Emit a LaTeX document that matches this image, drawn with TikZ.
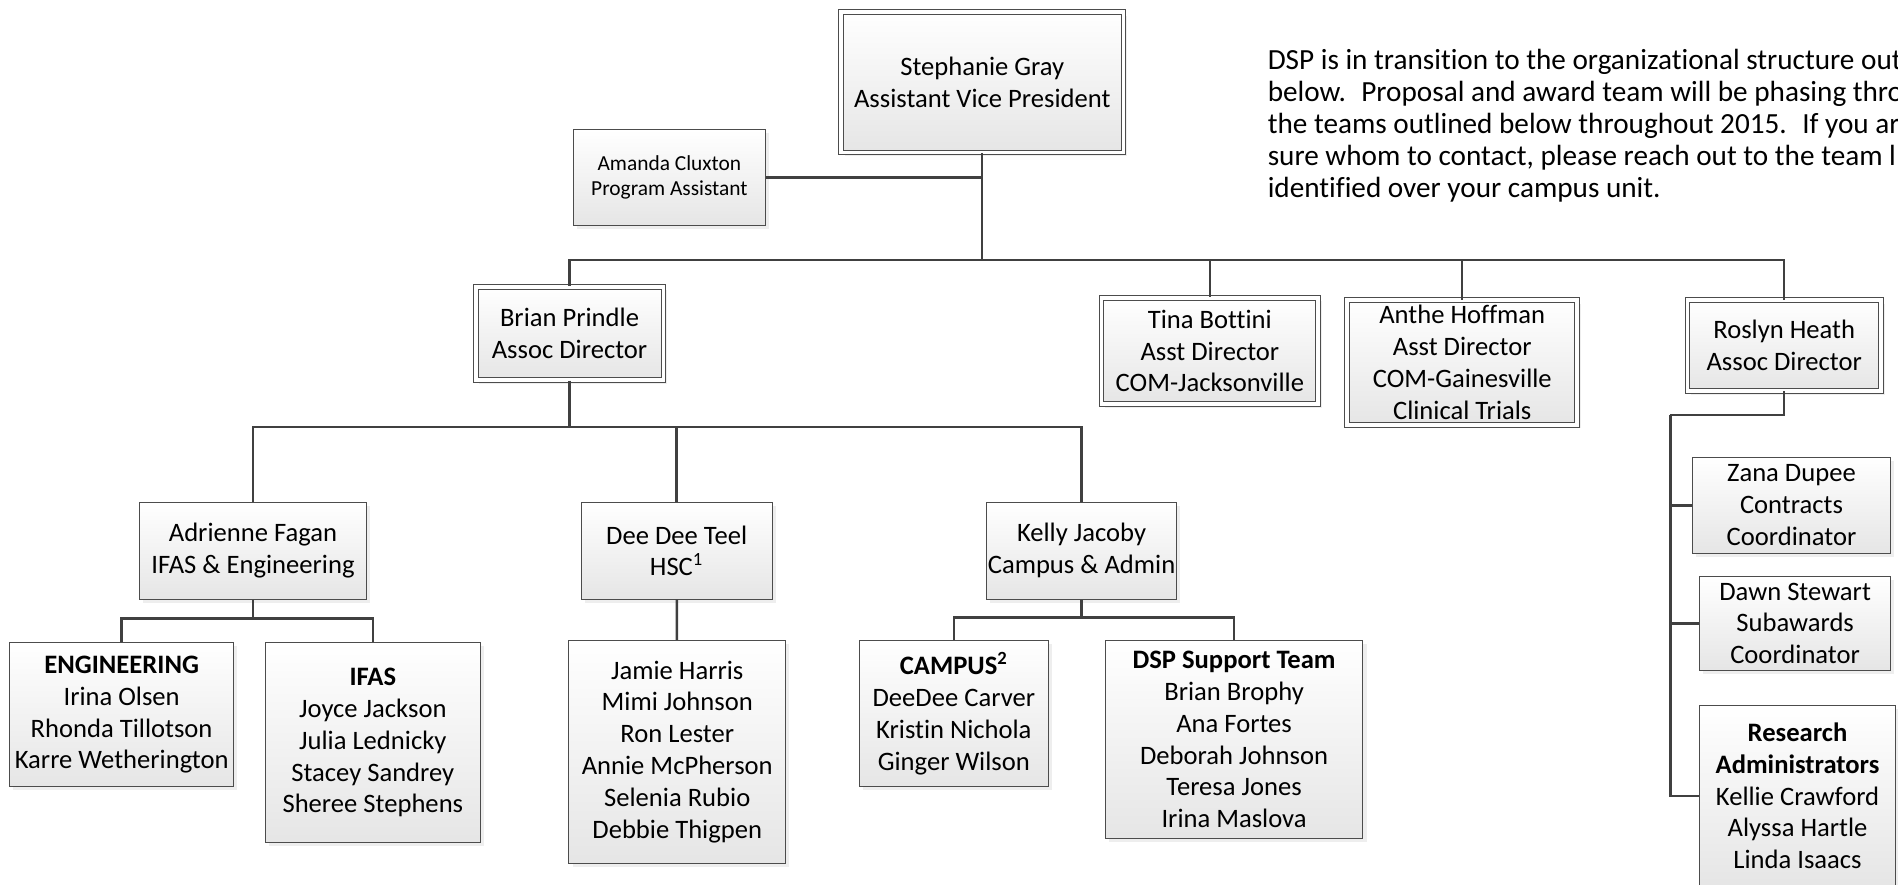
\documentclass[tikz,border=0pt]{standalone}
\usepackage{fontspec}
\setmainfont{Carlito}[Ligatures=CommonOff]
\usetikzlibrary{positioning, shadows, calc}

\begin{document}
\begin{tikzpicture}[x=0.605pt,y=-0.605pt,
        box/.style={draw=black!70, line width=0.5pt, top color=white, bottom color=black!10,
            drop shadow={shadow xshift=1.8pt,shadow yshift=-1.8pt,fill=black!13},
            align=center, inner sep=0pt, font=\fontsize{13.3}{15.9}\selectfont},
        lead/.style={box, double=white, double distance=1.8pt},
        sz/.style 2 args={minimum width=#1*0.605pt, minimum height=#2*0.605pt},
        link/.style={draw=black!75, line width=1.2pt},
        hv/.style={to path={-| (\tikztotarget) \tikztonodes}},
        vh/.style={to path={|- (\tikztotarget) \tikztonodes}}]
        \useasboundingbox (0,0) rectangle (1568,731);

        \node[lead, sz={233}{116}] (gray) at (811.5,68) {Stephanie Gray\\Assistant Vice President};
        \node[box, sz={158}{79}, font=\fontsize{10.7}{12.8}\selectfont] (cluxton) at (553,146.5) {Amanda Cluxton\\Program Assistant};
        \node[lead, sz={155}{77}] (prindle) at (470.5,275.5) {Brian Prindle\\Assoc Director};
        \node[lead, sz={179}{88}] (bottini) at (999.5,290) {Tina Bottini\\Asst Director\\COM-Jacksonville};
        \node[lead, sz={190}{103}] (hoffman) at (1208,299.5) {Anthe Hoffman\\Asst Director\\COM-Gainesville\\Clinical Trials};
        \node[lead, sz={160}{75}] (heath) at (1474,285.5) {Roslyn Heath\\Assoc Director};
        \node[box, sz={188}{80}] (fagan) at (209,455) {Adrienne Fagan\\IFAS \& Engineering};
        \node[box, sz={158}{80}] (teel) at (559,455) {Dee Dee Teel\\HSC\textsuperscript{1}};
        \node[box, sz={157}{80}] (jacoby) at (893.5,455) {Kelly Jacoby\\Campus \& Admin};
        \node[box, sz={185}{119}] (eng) at (100.5,590.5) {\textbf{ENGINEERING}\\Irina Olsen\\Rhonda Tillotson\\Karre Wetherington};
        \node[box, sz={178}{165}] (ifas) at (308,613.5) {\textbf{IFAS}\\Joyce Jackson\\Julia Lednicky\\Stacey Sandrey\\Sheree Stephens};
        \node[box, sz={179}{184}] (hsc) at (559.5,621) {Jamie Harris\\Mimi Johnson\\Ron Lester\\Annie McPherson\\Selenia Rubio\\Debbie Thigpen};
        \node[box, sz={156}{121}] (campus) at (788,589.5) {\textbf{CAMPUS\textsuperscript{2}}\\DeeDee Carver\\Kristin Nichola\\Ginger Wilson};
        \node[box, sz={213}{164}] (support) at (1019.5,611) {\textbf{DSP Support Team}\\Brian Brophy\\Ana Fortes\\Deborah Johnson\\Teresa Jones\\Irina Maslova};
        \node[box, sz={164}{79}] (dupee) at (1480,417.5) {Zana Dupee\\Contracts\\Coordinator};
        \node[box, sz={158}{78}] (stewart) at (1483,515) {Dawn Stewart\\Subawards\\Coordinator};
        \node[box, sz={162}{149}] (ra) at (1485,657.5) {\textbf{Research}\\\textbf{Administrators}\\Kellie Crawford\\Alyssa Hartle\\Linda Isaacs};

        \node[anchor=north west, align=left, inner sep=0pt, font=\fontsize{14.6}{16}\selectfont] (note) at (1047,40.5)
            {DSP is in transition to the organizational structure out\\
             below.~ Proposal and award team will be phasing thro\\
             the teams outlined below throughout 2015.~ If you ar\\
             sure whom to contact, please reach out to the team l\\
             identified over your campus unit.};

        \coordinate (topbus) at (811.5,215);
        \coordinate (midbus) at (470.5,353);
        \coordinate (engbus) at (209,511);
        \coordinate (admbus) at (893.5,510);
        \coordinate (rabus) at (1380,343);

        \path[link]
        (gray) edge (topbus)
        (cluxton) edge (cluxton -| gray)
        (topbus) edge[hv] (prindle)
        (topbus) edge[hv] (bottini)
        (topbus) edge[hv] (hoffman)
        (topbus) edge[hv] (heath)
        (prindle) edge (midbus)
        (midbus) edge[hv] (fagan)
        (midbus) edge[hv] (teel)
        (midbus) edge[hv] (jacoby)
        (fagan) edge (engbus)
        (engbus) edge[hv] (eng)
        (engbus) edge[hv] (ifas)
        (teel) edge (hsc)
        (jacoby) edge (admbus)
        (admbus) edge[hv] (campus)
        (admbus) edge[hv] (support)
        (heath.south) edge[vh] (rabus)
        (rabus) edge[vh] (dupee)
        (rabus) edge[vh] (stewart)
        (rabus) edge[vh] (ra)
        ;

    \end{tikzpicture}
\end{document}
